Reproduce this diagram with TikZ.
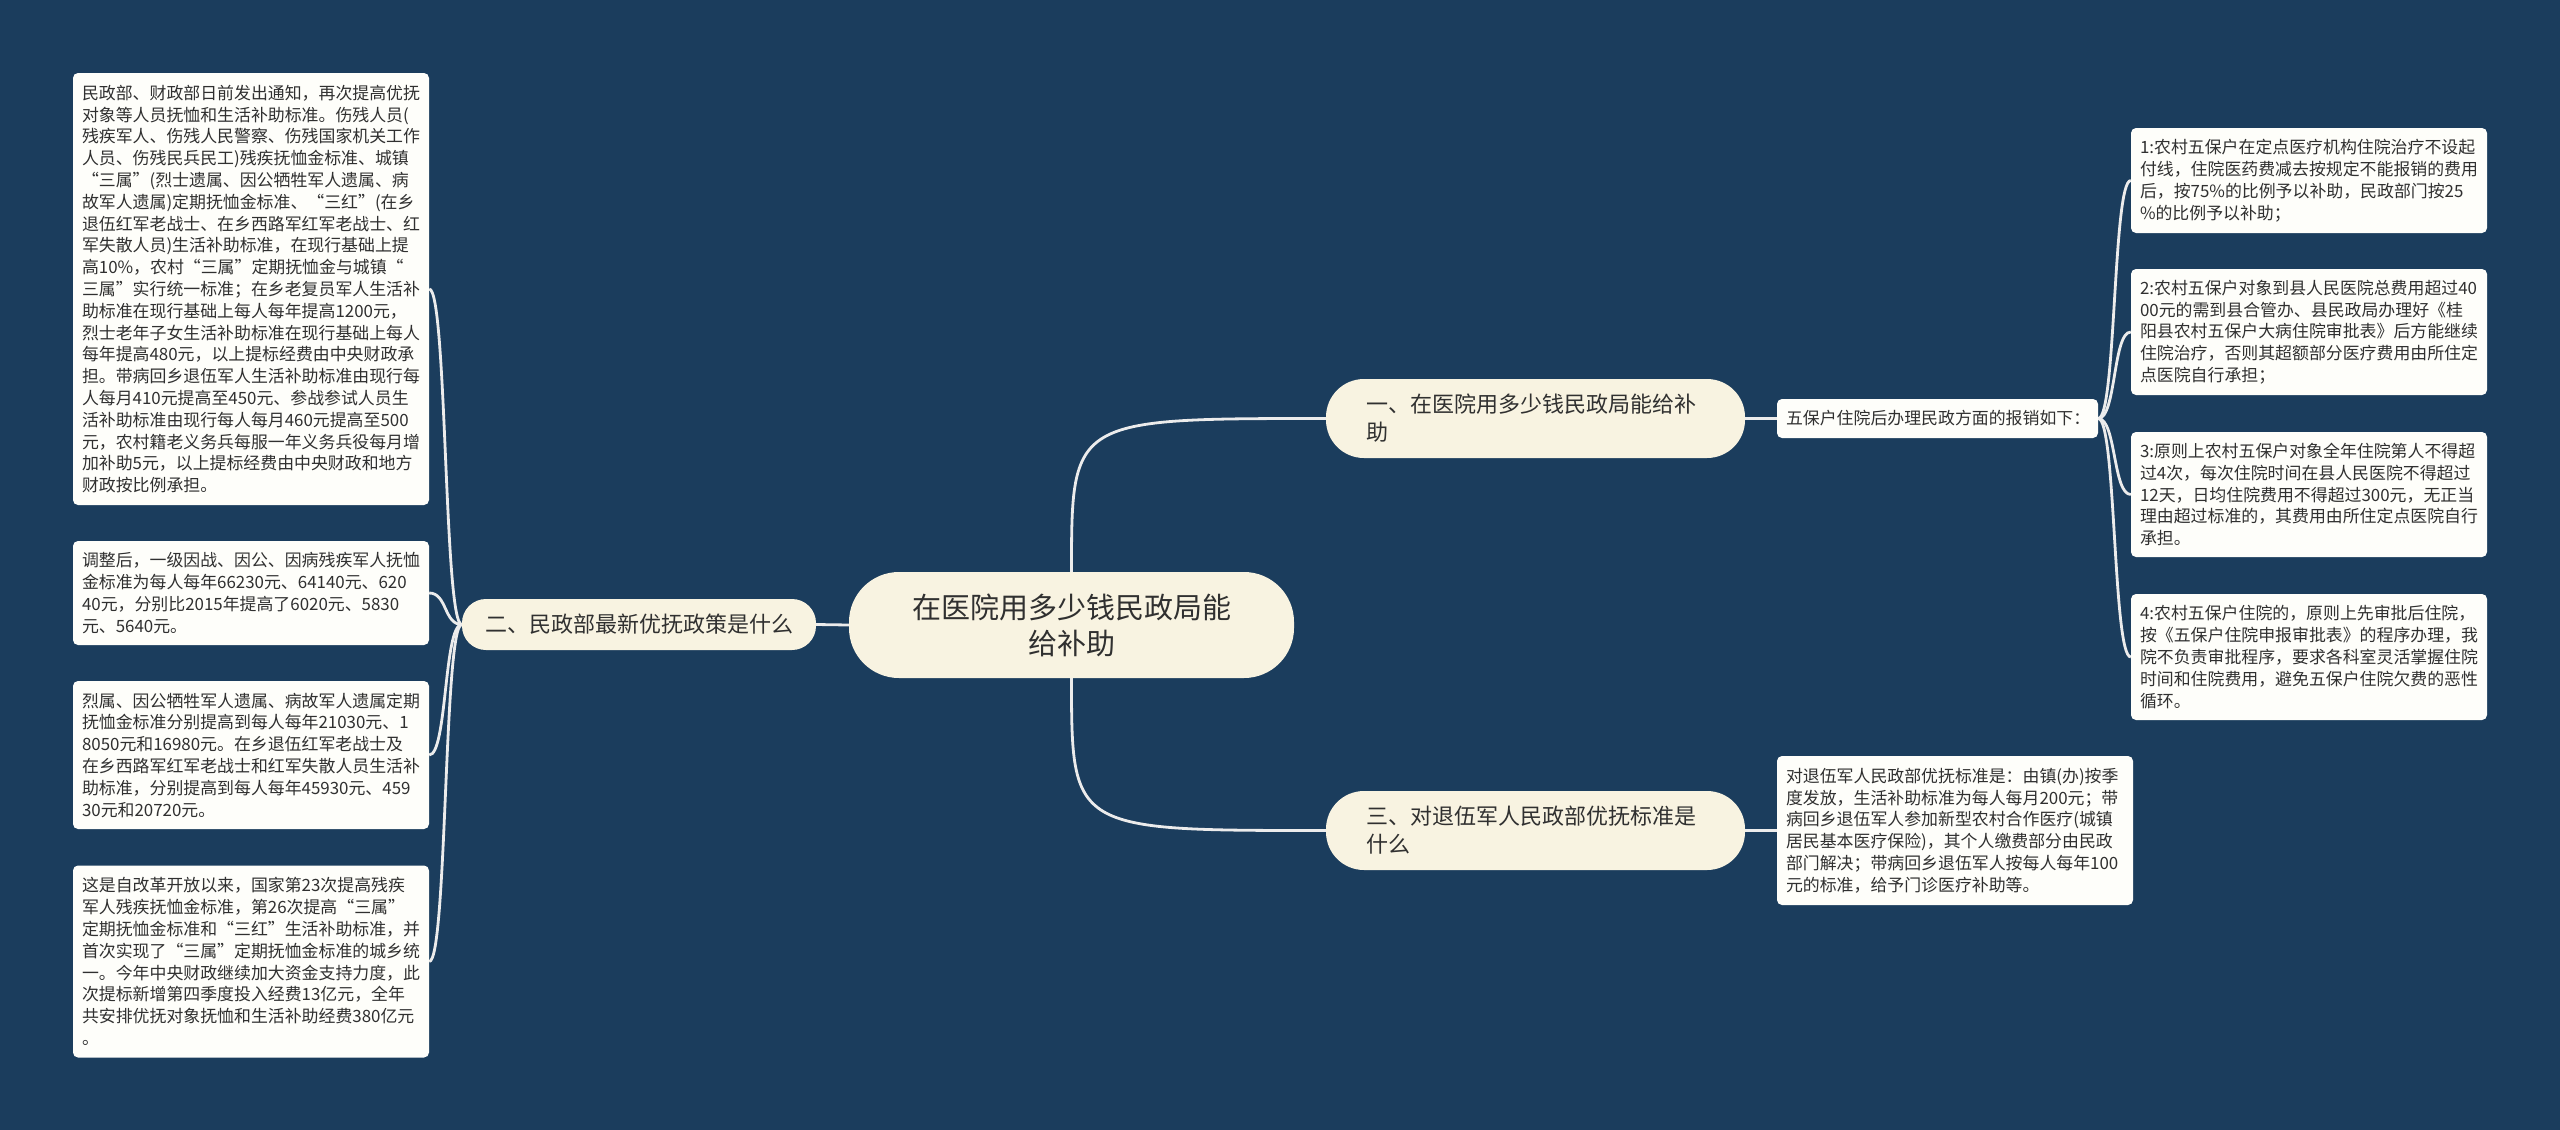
\documentclass[tikz,border=0pt]{standalone}
\usepackage{fontspec}
\setmainfont{Noto Sans CJK SC}
\usetikzlibrary{backgrounds}
\definecolor{bgc}{HTML}{1B3D5D}
\definecolor{cream}{HTML}{F8F3E1}
\definecolor{boxc}{HTML}{FEFEFA}
\definecolor{txt}{HTML}{303030}
\definecolor{linec}{HTML}{ECECEC}
\tikzset{
  box/.style={fill=boxc, rounded corners=5pt, inner xsep=9pt, inner ysep=0pt, align=left, text=txt, font=\fontsize{16.9}{21.8}\selectfont},
  pill/.style={fill=cream, text=txt, inner ysep=0pt},
  conn/.style={draw=linec, line width=2.8pt},
}
\begin{document}
\begin{tikzpicture}[x=1pt,y=-1pt]
\useasboundingbox (0,0) rectangle (2560,1130);

% central node
\node[pill, minimum width=445pt, minimum height=106pt, rounded corners=50pt, align=center, inner xsep=0pt, font=\fontsize{29}{36}\selectfont] (c) at (1071.5,625) {在医院用多少钱民政局能\\给补助};

% level 1
\node[pill, minimum width=419pt, minimum height=79pt, rounded corners=38pt, align=left, inner xsep=40pt, text width=339pt, font=\fontsize{22}{28}\selectfont] (one) at (1535.5,418.5) {一、在医院用多少钱民政局能给补\\助};
\node[pill, minimum width=419pt, minimum height=79pt, rounded corners=38pt, align=left, inner xsep=40pt, text width=339pt, font=\fontsize{22}{28}\selectfont] (three) at (1535.5,830.5) {三、对退伍军人民政部优抚标准是\\什么};
\node[pill, minimum width=354pt, minimum height=51pt, rounded corners=24pt, align=center, inner xsep=0pt, font=\fontsize{22}{28}\selectfont] (two) at (639,624.5) {二、民政部最新优抚政策是什么};

% right side
\node[box, text width=303pt, minimum height=39pt] (wbh) at (1937.5,418.5) {五保户住院后办理民政方面的报销如下：};
\node[box, text width=338pt, minimum height=149pt] (dtw) at (1955,830.5) {对退伍军人民政部优抚标准是：由镇(办)按季\\度发放，生活补助标准为每人每月200元；带\\病回乡退伍军人参加新型农村合作医疗(城镇\\居民基本医疗保险)，其个人缴费部分由民政\\部门解决；带病回乡退伍军人按每人每年100\\元的标准，给予门诊医疗补助等。};

\node[box, text width=338pt, minimum height=105pt] (r1) at (2309,180.5) {1:农村五保户在定点医疗机构住院治疗不设起\\付线，住院医药费减去按规定不能报销的费用\\后，按75\%的比例予以补助，民政部门按25\\\%的比例予以补助；};
\node[box, text width=338pt, minimum height=126pt] (r2) at (2309,332) {2:农村五保户对象到县人民医院总费用超过40\\00元的需到县合管办、县民政局办理好《桂\\阳县农村五保户大病住院审批表》后方能继续\\住院治疗，否则其超额部分医疗费用由所住定\\点医院自行承担；};
\node[box, text width=338pt, minimum height=125pt] (r3) at (2309,494.5) {3:原则上农村五保户对象全年住院第人不得超\\过4次，每次住院时间在县人民医院不得超过\\12天，日均住院费用不得超过300元，无正当\\理由超过标准的，其费用由所住定点医院自行\\承担。};
\node[box, text width=338pt, minimum height=126pt] (r4) at (2309,657) {4:农村五保户住院的，原则上先审批后住院，\\按《五保户住院申报审批表》的程序办理，我\\院不负责审批程序，要求各科室灵活掌握住院\\时间和住院费用，避免五保户住院欠费的恶性\\循环。};

% left side
\node[box, text width=338pt, minimum height=432pt] (la) at (251,289) {民政部、财政部日前发出通知，再次提高优抚\\对象等人员抚恤和生活补助标准。伤残人员(\\残疾军人、伤残人民警察、伤残国家机关工作\\人员、伤残民兵民工)残疾抚恤金标准、城镇\\“三属”(烈士遗属、因公牺牲军人遗属、病\\故军人遗属)定期抚恤金标准、“三红”(在乡\\退伍红军老战士、在乡西路军红军老战士、红\\军失散人员)生活补助标准，在现行基础上提\\高10\%，农村“三属”定期抚恤金与城镇“\\三属”实行统一标准；在乡老复员军人生活补\\助标准在现行基础上每人每年提高1200元，\\烈士老年子女生活补助标准在现行基础上每人\\每年提高480元，以上提标经费由中央财政承\\担。带病回乡退伍军人生活补助标准由现行每\\人每月410元提高至450元、参战参试人员生\\活补助标准由现行每人每月460元提高至500\\元，农村籍老义务兵每服一年义务兵役每月增\\加补助5元，以上提标经费由中央财政和地方\\财政按比例承担。};
\node[box, text width=338pt, minimum height=104pt] (lb) at (251,593) {调整后，一级因战、因公、因病残疾军人抚恤\\金标准为每人每年66230元、64140元、620\\40元，分别比2015年提高了6020元、5830\\元、5640元。};
\node[box, text width=338pt, minimum height=148pt] (lc) at (251,755) {烈属、因公牺牲军人遗属、病故军人遗属定期\\抚恤金标准分别提高到每人每年21030元、1\\8050元和16980元。在乡退伍红军老战士及\\在乡西路军红军老战士和红军失散人员生活补\\助标准，分别提高到每人每年45930元、459\\30元和20720元。};
\node[box, text width=338pt, minimum height=192pt] (ld) at (251,961.5) {这是自改革开放以来，国家第23次提高残疾\\军人残疾抚恤金标准，第26次提高“三属”\\定期抚恤金标准和“三红”生活补助标准，并\\首次实现了“三属”定期抚恤金标准的城乡统\\一。今年中央财政继续加大资金支持力度，此\\次提标新增第四季度投入经费13亿元，全年\\共安排优抚对象抚恤和生活补助经费380亿元\\。};

\begin{scope}[on background layer]
  \fill[bgc] (0,0) rectangle (2560,1130);
  \draw[conn] (c.west) -- (two.east);
  \draw[conn] (c.north) .. controls (c.north |- one.west) .. (one.west);
  \draw[conn] (c.south) .. controls (c.south |- three.west) .. (three.west);
  \draw[conn] (one.east) -- (wbh.west);
  \draw[conn] (three.east) -- (dtw.west);
  \foreach \n in {r1,r2,r3,r4}
    \draw[conn] (wbh.east) .. controls +(18,0) and +(-18,0) .. (\n.west);
  \foreach \n in {la,lb,lc,ld}
    \draw[conn] (two.west) .. controls +(-18,0) and +(18,0) .. (\n.east);
\end{scope}
\end{tikzpicture}
\end{document}
